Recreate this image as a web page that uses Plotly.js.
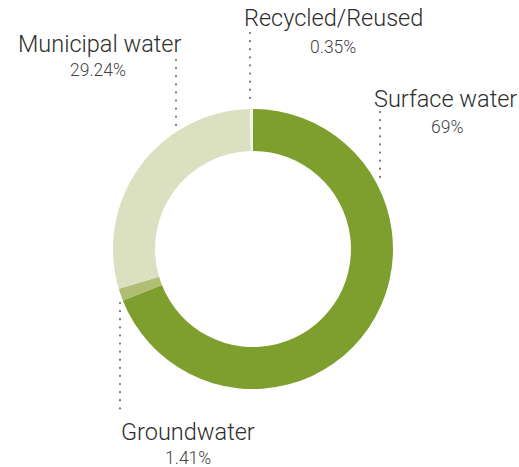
<!DOCTYPE html>
<html>
<head>
<meta charset="utf-8">
<script src="https://cdn.plot.ly/plotly-3.0.1.min.js"></script>
<style>html,body{margin:0;padding:0;background:#fff;}#chart{width:519px;height:467px;}</style>
</head>
<body>
<div id="chart"></div>
<script>
const categories = ["Surface water", "Groundwater", "Municipal water", "Recycled/Reused"];
const values = [69, 1.41, 29.24, 0.35];
const valueLabels = ["69%", "1.41%", "29.24%", "0.35%"];
const colors = ["#7e9f2d", "#afbe72", "#dbe0c1", "#f4f5ec"];

// label layout (pixel positions in a 519x467 frame)
const labelPos = [
  {x: 445, y: 99, px: 447, py: 127, lx: 380, ly0: 112, ly1: 183},
  {x: 188, y: 432, px: 188, py: 458, lx: 120, ly0: 303, ly1: 412},
  {x: 100, y: 44, px: 98, py: 70, lx: 176, ly0: 60, ly1: 127},
  {x: 333, y: 18, px: 333, py: 47, lx: 250, ly0: 33, ly1: 104}
];

const W = 519, H = 467;
const cx = 253, cy = 249, r = 140;

const annotations = [];
const shapes = [];
categories.forEach((c, i) => {
  const p = labelPos[i];
  annotations.push({x: p.x, y: p.y, xref: 'x', yref: 'y', text: c, showarrow: false,
    font: {family: 'Roboto', size: 23.5, color: '#2e2e2e', weight: 300}, xanchor: 'center', yanchor: 'middle'});
  annotations.push({x: p.px, y: p.py, xref: 'x', yref: 'y', text: valueLabels[i], showarrow: false,
    font: {family: 'Roboto', size: 17.5, color: '#444', weight: 300}, xanchor: 'center', yanchor: 'middle'});
  shapes.push({type: 'line', xref: 'x', yref: 'y', x0: p.lx, x1: p.lx, y0: p.ly0, y1: p.ly1,
    line: {color: '#7a7a7a', width: 2.2, dash: '0.1px,8px'}});
});

const trace = {
  type: 'pie',
  labels: categories,
  values: values,
  hole: 0.70,
  sort: false,
  direction: 'clockwise',
  rotation: 0,
  marker: {colors: colors, line: {width: 0}},
  textinfo: 'none',
  hoverinfo: 'label+percent',
  showlegend: false,
  domain: {x: [(cx - r) / W, (cx + r) / W], y: [(H - cy - r) / H, (H - cy + r) / H]}
};

const layout = {
  width: W, height: H,
  margin: {l: 0, r: 0, t: 0, b: 0},
  paper_bgcolor: '#fff', plot_bgcolor: 'rgba(0,0,0,0)',
  showlegend: false,
  xaxis: {range: [0, W], visible: false, fixedrange: true},
  yaxis: {range: [H, 0], visible: false, fixedrange: true},
  annotations: annotations,
  shapes: shapes
};
Plotly.newPlot('chart', [trace], layout, {displayModeBar: false, staticPlot: true});
setTimeout(() => {
  document.querySelectorAll('.shapelayer path').forEach(p => p.style.strokeLinecap = 'round');
}, 50);
</script>
</body>
</html>
